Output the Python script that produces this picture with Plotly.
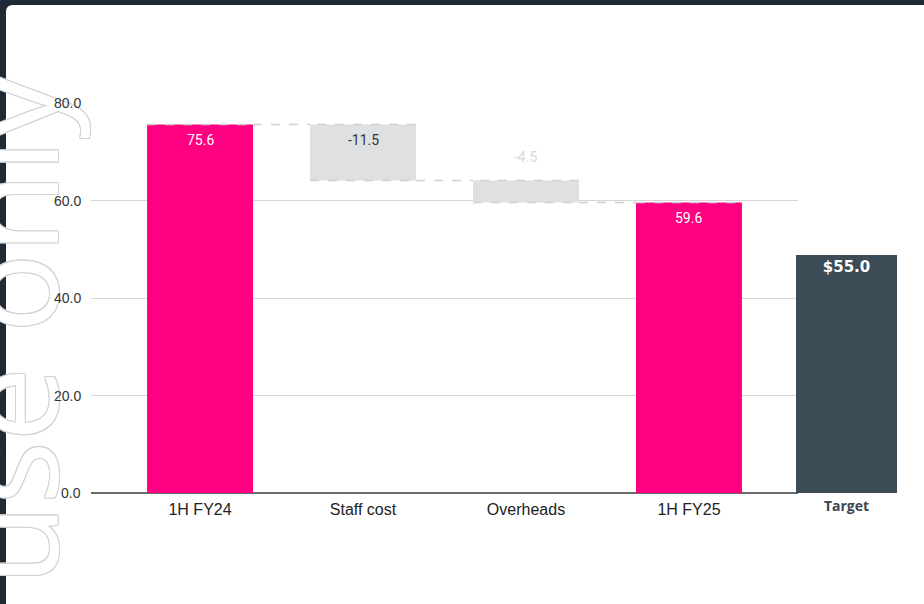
import plotly.graph_objects as go

# ---- data ----
categories = ["1H FY24", "Staff cost", "Overheads", "1H FY25"]
values = [75.6, -11.5, -4.5, 59.6]
measures = ["absolute", "relative", "relative", "total"]
target_label = ["Target"]
target_value = [55.0]
y_ticks = [0, 20, 40, 60, 80]
watermark = "For personal use only"

PINK = "#ff0080"
GREY = "#dfe0e2"
DARK = "#3c4c56"
BG = "#1e2a35"

W, H = 924, 604
L, R, T, B = 91, 27, 103, 111
PW = W - L - R
PH = H - T - B


def px_x(px):
    return (px - L) / PW


def px_y(py):
    return (H - B - py) / PH


main_end = px_x(798)
tgt_start = px_x(796)

fig = go.Figure()

fig.add_trace(go.Waterfall(
    x=categories, y=values, measure=measures,
    width=[0.65] * len(categories),
    textposition="none",
    totals=dict(marker=dict(color=PINK)),
    decreasing=dict(marker=dict(color=GREY)),
    increasing=dict(marker=dict(color=PINK)),
    connector=dict(mode="spanning", line=dict(color="#d0d0d0", width=1.5, dash="dash")),
    xaxis="x", yaxis="y", showlegend=False, hoverinfo="skip",
))

fig.add_trace(go.Bar(
    x=target_label, y=target_value, width=[1.0],
    marker=dict(color=DARK, line=dict(width=0)),
    text=[f"${v:.1f}" for v in target_value],
    textposition="inside", insidetextanchor="end",
    textfont=dict(family="DejaVu Sans", size=15, color="white", weight="bold"),
    xaxis="x2", yaxis="y2", showlegend=False, hoverinfo="skip",
))

annotations = []

# watermark (outlined text) - drawn first so labels stay on top
oc = "#d4d4d4"
d = 1.1
shadow = ", ".join(f"{dx}px {dy}px 0 {oc}" for dx, dy in
                   [(d, 0), (-d, 0), (0, d), (0, -d), (d, d), (-d, -d), (d, -d), (-d, d)])
annotations.append(dict(
    x=px_x(7), y=px_y(70), xref="paper", yref="paper",
    text=watermark, textangle=-90, showarrow=False,
    xanchor="center", yanchor="top",
    font=dict(family="Open Sans", size=132, color="white", shadow=shadow),
))

# y-axis tick labels (placed on the y scale, above the watermark)
for t in y_ticks:
    annotations.append(dict(x=px_x(83), y=t, xref="paper", yref="y",
                            text=f"{t:.1f}", showarrow=False,
                            xanchor="right", yanchor="middle",
                            font=dict(family="Liberation Sans", size=14, color="#333333")))

# bar labels computed from the data
cum = 0.0
label_styles = [
    dict(color="white", pos="in"),
    dict(color="#333333", pos="in"),
    dict(color="#d9d9d9", pos="out"),
    dict(color="white", pos="in"),
]
for i, (c, v, m) in enumerate(zip(categories, values, measures)):
    if m == "absolute":
        start, end = 0.0, v
        cum = v
    elif m == "relative":
        start, end = cum, cum + v
        cum = cum + v
    else:
        start, end = 0.0, cum
    top = max(start, end)
    st = label_styles[i]
    if st["pos"] == "in":
        annotations.append(dict(x=c, y=top, xref="x", yref="y", text=f"{v:.1f}",
                                showarrow=False, yanchor="top", yshift=-6,
                                font=dict(family="Roboto", size=14, color=st["color"])))
    else:
        annotations.append(dict(x=c, y=top, xref="x", yref="y", text=f"{v:.1f}",
                                showarrow=False, yanchor="bottom", yshift=14,
                                font=dict(family="Roboto", size=14, color=st["color"])))

# white card with rounded top-left corner
x0, x1 = px_x(6), px_x(W + 10)
yt, yb = px_y(5), px_y(H + 10)
rx, ry = 7 / PW, 7 / PH
card = (f"M {x0},{yb} L {x0},{yt - ry} Q {x0},{yt} {x0 + rx},{yt} "
        f"L {x1},{yt} L {x1},{yb} Z")

fig.update_layout(
    width=W, height=H, autosize=False,
    margin=dict(l=L, r=R, t=T, b=B, pad=0),
    paper_bgcolor=BG, plot_bgcolor="rgba(0,0,0,0)",
    shapes=[dict(type="path", path=card, xref="paper", yref="paper",
                 fillcolor="white", line=dict(width=0), layer="below")],
    annotations=annotations,
    xaxis=dict(domain=[0, main_end], range=[-0.669, 3.669], showgrid=False,
               showline=False, ticks="", anchor="y", ticklabelstandoff=5,
               tickfont=dict(family="Liberation Sans", size=16, color="#222222")),
    yaxis=dict(range=[0, 80], tickvals=y_ticks, showticklabels=False,
               showgrid=True, gridcolor="#d6d6d6", gridwidth=1,
               zeroline=True, zerolinecolor="#6a6a6a", zerolinewidth=1.5,
               showline=False, ticks="", anchor="x"),
    xaxis2=dict(domain=[tgt_start, 1.0], range=[-0.5, 0.5], showgrid=False,
                showline=False, ticks="", anchor="y2", ticklabelstandoff=3,
                tickfont=dict(family="Open Sans", size=14, color="#3a4650", weight="bold")),
    yaxis2=dict(range=[0, 90.1], visible=False, anchor="x2", showgrid=False, zeroline=False),
)

fig.write_html("out.html")
